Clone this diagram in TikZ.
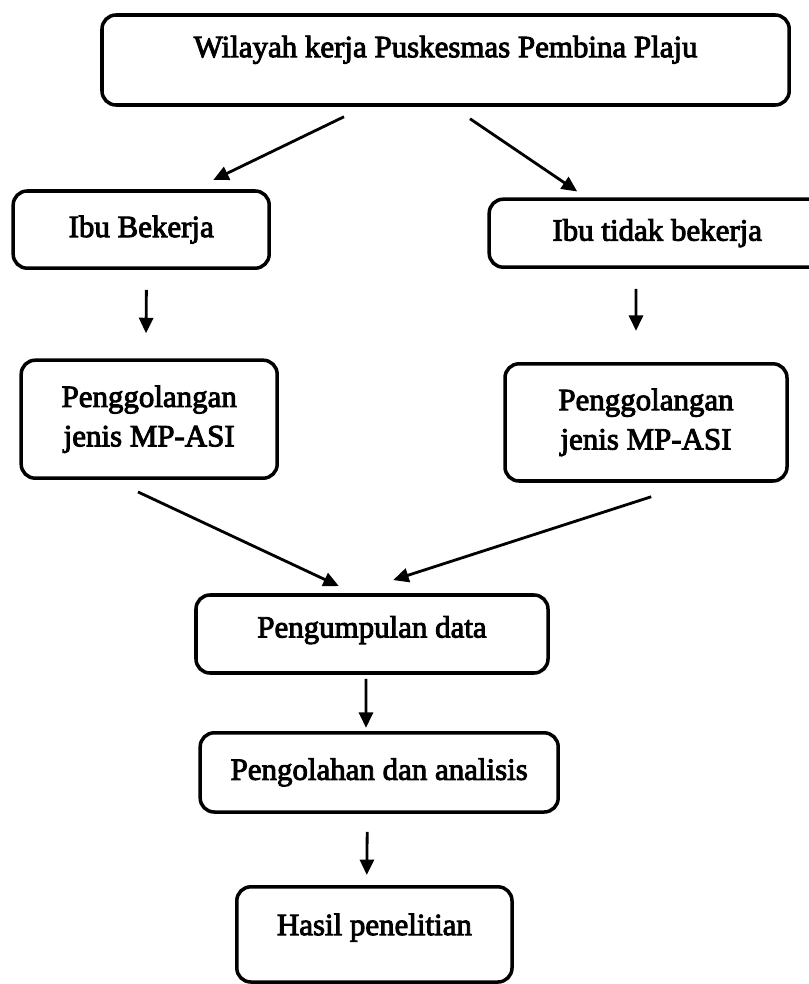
\documentclass[tikz,border=0pt]{standalone}
\usepackage{fontspec}
\setmainfont{Liberation Serif}[FakeBold=3]
\usetikzlibrary{arrows.meta,positioning}

\begin{document}
\begin{tikzpicture}[>={Triangle[length=11pt,width=10pt]},box/.style={draw,line width=2.5pt,rounded corners=0.35cm,align=center,font=\fontsize{22}{28}\selectfont},link/.style={->,line width=2pt}]

	\useasboundingbox (0,0) rectangle (20.2,-24.6);

	\node [box,minimum width=17.18cm,minimum height=2.25cm,text height=15pt,text depth=19pt] at (11.14,-1.5)	(wil)	{Wilayah kerja Puskesmas Pembina Plaju};
	\node [box,minimum width=6.4cm,minimum height=1.93cm] at (3.53,-5.74)		(ibu1)		{Ibu Bekerja};
	\node [box,minimum width=8.4cm,minimum height=1.7cm] at (16.43,-5.83)		(ibu2)		{Ibu tidak bekerja};
	\node [box,minimum width=6.4cm,minimum height=2.95cm] at (3.73,-10.48)		(pg1)		{Penggolangan\\jenis MP-ASI};
	\node [box,minimum width=7.05cm,minimum height=2.93cm] at (16.15,-10.56)	(pg2)		{Penggolangan\\jenis MP-ASI};
	\node [box,minimum width=8.8cm,minimum height=1.95cm,text height=15pt,text depth=10pt] at (9.3,-15.85)	(kum)	{Pengumpulan data};
	\node [box,minimum width=8.95cm,minimum height=1.98cm] at (9.48,-19.31)	(olah)		{Pengolahan dan analisis};
	\node [box,minimum width=6.88cm,minimum height=2.38cm,text height=15pt,text depth=14pt] at (9.36,-23.36)	(hasil)	{Hasil penelitian};

	\path [link]	([xshift=-2.54cm,yshift=-0.25cm]wil.south)	edge	([xshift=1.8cm,yshift=0.23cm]ibu1.north)
				([xshift=0.61cm,yshift=-0.3cm]wil.south)	edge	([xshift=-2cm,yshift=0.15cm]ibu2.north)
				([xshift=0.13cm,yshift=-0.5cm]ibu1.south)	edge	([xshift=-0.08cm,yshift=0.63cm]pg1.north)
				([xshift=-0.53cm,yshift=-0.5cm]ibu2.south)	edge	([xshift=-0.25cm,yshift=0.78cm]pg2.north)
				([xshift=-0.28cm,yshift=-0.3cm]pg1.south)	edge	([xshift=-0.83cm,yshift=0.18cm]kum.north)
				([xshift=0.13cm,yshift=-0.35cm]pg2.south)	edge	([xshift=0.53cm,yshift=0.33cm]kum.north)
				([xshift=-0.15cm,yshift=-0.1cm]kum.south)	edge	([xshift=-0.33cm,yshift=0.08cm]olah.north)
				([xshift=-0.3cm,yshift=-0.45cm]olah.south)	edge	([xshift=-0.19cm,yshift=0.25cm]hasil.north);

\end{tikzpicture}
\end{document}
